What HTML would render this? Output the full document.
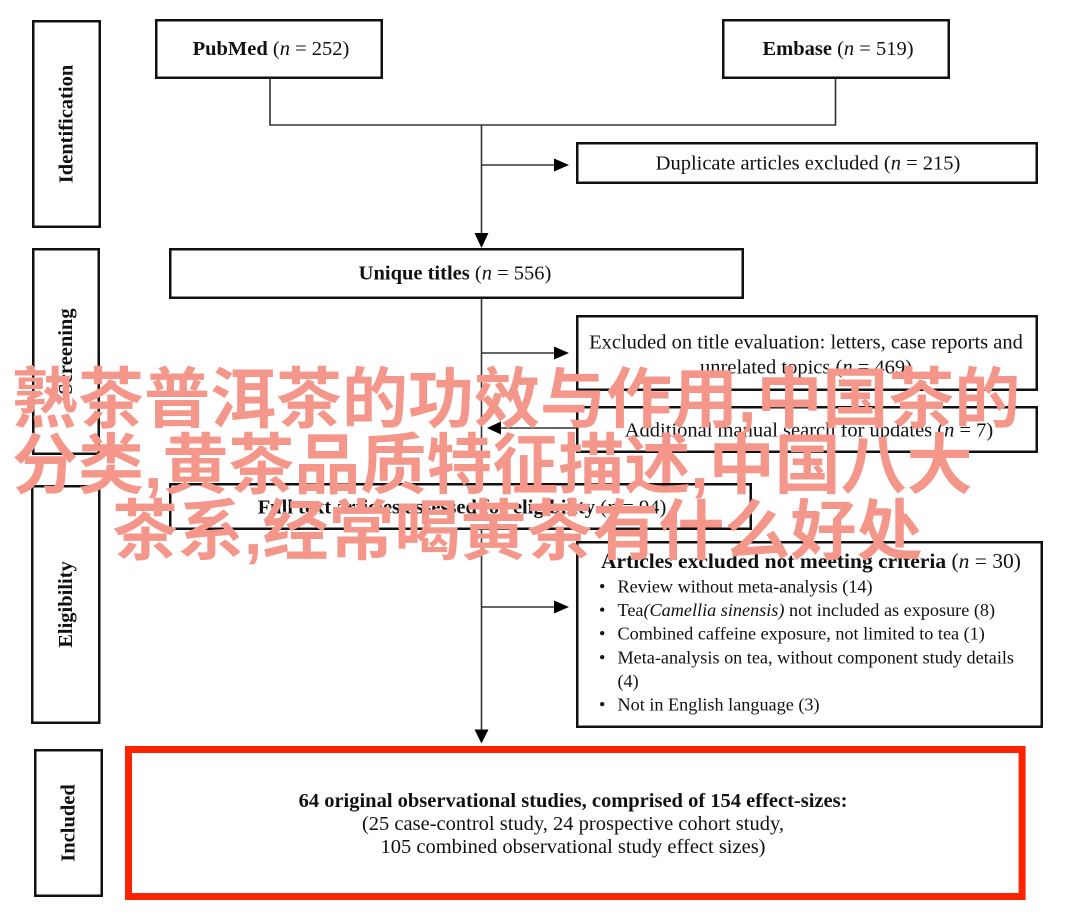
<!DOCTYPE html>
<html>
<head>
<meta charset="utf-8">
<style>
html,body{margin:0;padding:0;background:#fff;}
body{width:1080px;height:915px;position:relative;overflow:hidden;}
svg{position:absolute;left:0;top:0;}
.ov{position:absolute;white-space:nowrap;font-family:"Liberation Sans","Noto Sans CJK SC",sans-serif;font-size:66px;line-height:66px;font-weight:700;color:#f4978a;}
</style>
</head>
<body>
<svg width="1080" height="915" viewBox="0 0 1080 915" xmlns="http://www.w3.org/2000/svg">
<g fill="none" stroke="#111" stroke-width="2.5">
<rect x="33.25" y="21.25" width="66.5" height="205.5"/>
<rect x="33.25" y="249.25" width="65.5" height="204.5"/>
<rect x="32.25" y="486.25" width="67" height="236.5"/>
<rect x="35.25" y="750.25" width="66.5" height="145.5"/>
<rect x="156.25" y="20.25" width="225.5" height="57.5"/>
<rect x="723.25" y="20.25" width="225.5" height="57.5"/>
<rect x="577.25" y="143.25" width="459.5" height="39.5"/>
<rect x="170.25" y="249.25" width="572.5" height="48.5"/>
<rect x="577.25" y="316.25" width="459.5" height="73.5"/>
<rect x="577.25" y="407.25" width="459.5" height="44.5"/>
<rect x="170.25" y="484.25" width="580.5" height="44.5"/>
<rect x="577.25" y="542.25" width="464.5" height="184.5"/>
</g>
<rect x="128.5" y="749.5" width="893.6" height="147" fill="none" stroke="#fe2200" stroke-width="7"/>
<g fill="none" stroke="#333" stroke-width="1.6">
<path d="M270 79 V125 H835.5 V79"/>
<path d="M481.5 125 V233"/>
<path d="M481.5 165 H554"/>
<path d="M481.5 299 V483"/>
<path d="M481.5 353 H554"/>
<path d="M576 428 H501"/>
<path d="M481.5 530 V729.5"/>
<path d="M481.5 607 H554"/>
</g>
<g fill="#000">
<polygon points="474.5,233 488.5,233 481.5,248"/>
<polygon points="554,158.5 554,171.5 569,165"/>
<polygon points="554,346.5 554,359.5 569,353"/>
<polygon points="501,421.5 501,434.5 487,428"/>
<polygon points="554,600.5 554,613.5 569,607"/>
<polygon points="474.5,729.5 488.5,729.5 481.5,743.5"/>
</g>
<g font-family="'Liberation Serif', serif" font-size="20.5" fill="#111">
<g font-weight="bold" text-anchor="middle" dominant-baseline="central">
<text transform="translate(66.5 124) rotate(-90)">Identification</text>
<text transform="translate(66 351.5) rotate(-90)">Screening</text>
<text transform="translate(66 604.5) rotate(-90)">Eligibility</text>
<text transform="translate(68.5 823) rotate(-90)">Included</text>
</g>
<g text-anchor="middle">
<text x="271" y="55"><tspan font-weight="bold">PubMed</tspan> (<tspan font-style="italic">n</tspan> = 252)</text>
<text x="838" y="55"><tspan font-weight="bold">Embase</tspan> (<tspan font-style="italic">n</tspan> = 519)</text>
<text x="808" y="169.5">Duplicate articles excluded (<tspan font-style="italic">n</tspan> = 215)</text>
<text x="455" y="279.5"><tspan font-weight="bold">Unique titles</tspan> (<tspan font-style="italic">n</tspan> = 556)</text>
<text x="806" y="348.5">Excluded on title evaluation: letters, case reports and</text>
<text x="806" y="373.5">unrelated topics (<tspan font-style="italic">n</tspan> = 469)</text>
<text x="809" y="436.5">Additional manual search for updates (<tspan font-style="italic">n</tspan> = 7)</text>
<text x="462" y="513.5"><tspan font-weight="bold">Full text articles assessed for eligibility</tspan> (<tspan font-style="italic">n</tspan> = 94)</text>
<text x="811" y="568" font-size="21.5"><tspan font-weight="bold">Articles excluded not meeting criteria</tspan> (<tspan font-style="italic">n</tspan> = 30)</text>
<text x="573" y="807" font-weight="bold">64 original observational studies, comprised of 154 effect-sizes:</text>
<text x="573" y="830">(25 case-control study, 24 prospective cohort study,</text>
<text x="573" y="853">105 combined observational study effect sizes)</text>
</g>
<g font-size="18.2">
<text x="599" y="592.5">•</text>
<text x="617.5" y="592.5">Review without meta-analysis (14)</text>
<text x="599" y="616.1">•</text>
<text x="617.5" y="616.1">Tea<tspan font-style="italic">(Camellia sinensis)</tspan> not included as exposure (8)</text>
<text x="599" y="639.7">•</text>
<text x="617.5" y="639.7">Combined caffeine exposure, not limited to tea (1)</text>
<text x="599" y="663.3">•</text>
<text x="617.5" y="663.3">Meta-analysis on tea, without component study details</text>
<text x="617.5" y="686.9">(4)</text>
<text x="599" y="710.5">•</text>
<text x="617.5" y="710.5">Not in English language (3)</text>
</g>
</g>
</svg>
<div class="ov" style="left:12px;top:366px;">熟茶普洱茶的功效与作用,中国茶的</div>
<div class="ov" style="left:12px;top:432px;">分类,黄茶品质特征描述,中国八大</div>
<div class="ov" style="left:112px;top:498px;">茶系,经常喝黄茶有什么好处</div>
</body>
</html>
